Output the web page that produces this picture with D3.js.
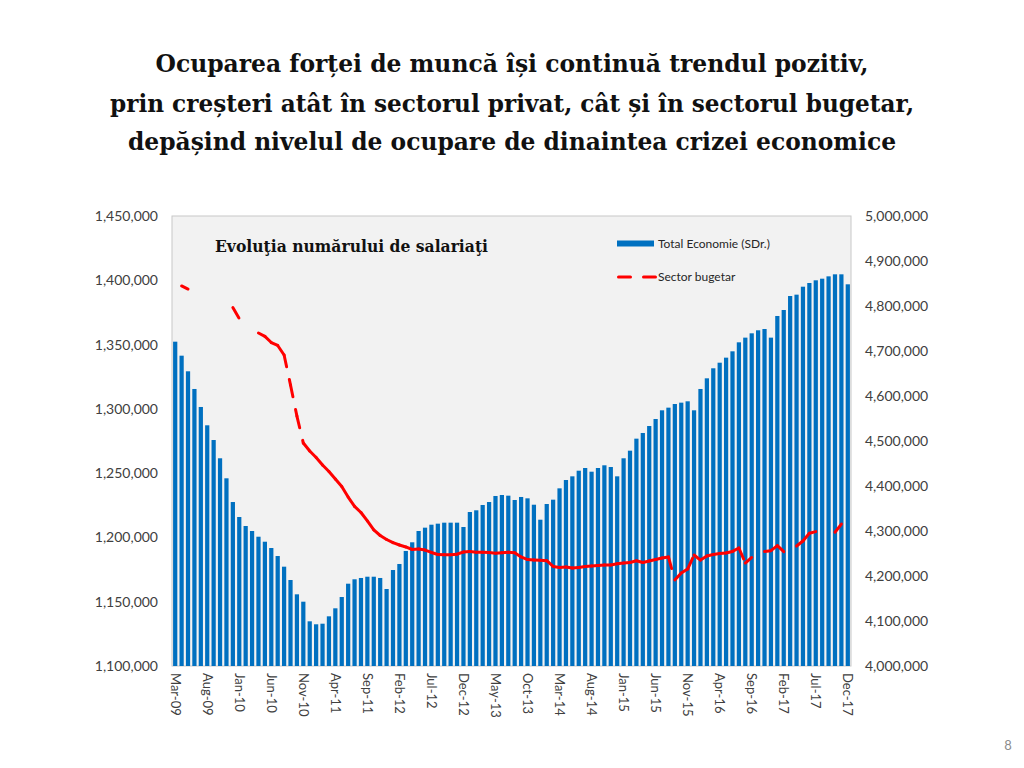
<!DOCTYPE html>
<html><head><meta charset="utf-8">
<script src="https://cdn.jsdelivr.net/npm/d3@7"></script>
<style>body{margin:0;background:#fff}</style>
</head><body><svg id="c" width="1024" height="768"></svg>
<script>
const months = [
"Mar-09","Apr-09","May-09","Jun-09","Jul-09","Aug-09","Sep-09","Oct-09","Nov-09","Dec-09",
"Jan-10","Feb-10","Mar-10","Apr-10","May-10","Jun-10","Jul-10","Aug-10","Sep-10","Oct-10","Nov-10","Dec-10",
"Jan-11","Feb-11","Mar-11","Apr-11","May-11","Jun-11","Jul-11","Aug-11","Sep-11","Oct-11","Nov-11","Dec-11",
"Jan-12","Feb-12","Mar-12","Apr-12","May-12","Jun-12","Jul-12","Aug-12","Sep-12","Oct-12","Nov-12","Dec-12",
"Jan-13","Feb-13","Mar-13","Apr-13","May-13","Jun-13","Jul-13","Aug-13","Sep-13","Oct-13","Nov-13","Dec-13",
"Jan-14","Feb-14","Mar-14","Apr-14","May-14","Jun-14","Jul-14","Aug-14","Sep-14","Oct-14","Nov-14","Dec-14",
"Jan-15","Feb-15","Mar-15","Apr-15","May-15","Jun-15","Jul-15","Aug-15","Sep-15","Oct-15","Nov-15","Dec-15",
"Jan-16","Feb-16","Mar-16","Apr-16","May-16","Jun-16","Jul-16","Aug-16","Sep-16","Oct-16","Nov-16","Dec-16",
"Jan-17","Feb-17","Mar-17","Apr-17","May-17","Jun-17","Jul-17","Aug-17","Sep-17","Oct-17","Nov-17","Dec-17"];

const totalEconomie = [
4720700,4689600,4654900,4615600,4575600,4534900,4502200,4461600,4417100,4364400,
4331100,4311100,4300000,4287300,4276200,4262200,4244400,4220700,4191100,4159300,4142900,4099300,
4092700,4094000,4110400,4128200,4153300,4182900,4192700,4195600,4198400,4198400,4195600,4171100,
4213300,4226700,4255600,4274900,4300000,4307400,4314000,4316300,4318500,4318500,4318500,4308900,
4342200,4346000,4357800,4364400,4377800,4380000,4378500,4368900,4375600,4372600,4358400,4325100,
4360000,4369600,4394800,4413300,4421500,4434000,4440000,4431800,4440000,4446000,4442200,4421500,
4461600,4478500,4505200,4517800,4533300,4548900,4568200,4574100,4582200,4585200,4588200,4568200,
4615600,4639300,4661600,4674000,4685200,4699300,4719300,4729700,4739300,4746000,4748900,4729700,
4777800,4791100,4822200,4825200,4842900,4851100,4857100,4860700,4865900,4870400,4870400,4848200];

const sectorBugetar = [
null,1395600,1393200,null,null,null,null,null,null,1378800,
1370300,null,null,1359000,1356400,1351600,1349300,1341900,1318600,1294400,1273400,1267200,
1262200,1256300,1251300,1245400,1239600,1231400,1224100,1219400,1212800,1205800,1201500,1198400,
1195900,1194100,1192600,1190600,1191000,1190200,1188300,1186700,1186600,1186600,1187000,1188700,
1189100,1188400,1188400,1188300,1187700,1188100,1188400,1188000,1184800,1182800,1182400,1182300,
1181900,1177400,1176600,1177000,1176200,1176600,1177400,1177800,1178200,1178600,1178600,1179600,
1180100,1180500,1181900,1180500,1181700,1182800,1184000,1184800,1166900,1172300,1175400,1186300,
1182400,1185600,1186700,1187500,1187900,1189100,1191800,1180100,1184400,null,1189100,1189700,
1193600,1188900,null,1193300,1197200,1203200,1204500,null,null,1204000,1210400,null];

const xTickLabels = ["Mar-09","Aug-09","Jan-10","Jun-10","Nov-10","Apr-11","Sep-11","Feb-12","Jul-12","Dec-12",
"May-13","Oct-13","Mar-14","Aug-14","Jan-15","Jun-15","Nov-15","Apr-16","Sep-16","Feb-17","Jul-17","Dec-17"];
const leftTicks = [1100000,1150000,1200000,1250000,1300000,1350000,1400000,1450000];
const rightTicks = [4000000,4100000,4200000,4300000,4400000,4500000,4600000,4700000,4800000,4900000,5000000];
const titleLines = ["Ocuparea forței de muncă își continuă trendul pozitiv,",
"prin creșteri atât în sectorul privat, cât și în sectorul bugetar,",
"depășind nivelul de ocupare de dinaintea crizei economice"];
const chartTitle = "Evoluţia numărului de salariaţi";
const legendLabels = ["Total Economie (SDr.)", "Sector bugetar"];
const pageNumber = "8";

const svg = d3.select("#c");
svg.append("rect").attr("width",1024).attr("height",768).attr("fill","#fff");

const P = {x0:172, x1:851, y0:216, y1:666};
const x = d3.scaleBand().domain(months).range([P.x0, P.x1]).paddingInner(0.34).paddingOuter(0.17);
const yL = d3.scaleLinear().domain([1100000,1450000]).range([P.y1, P.y0]);
const yR = d3.scaleLinear().domain([4000000,5000000]).range([P.y1, P.y0]);
const cx = m => x(m) + x.bandwidth()/2;

// Title
const tW = [713, 804, 768], tB = [72, 111.5, 150];
titleLines.forEach((t,k) => {
  svg.append("text").attr("x",512).attr("y",tB[k]).attr("text-anchor","middle")
    .attr("font-family","DejaVu Serif").attr("font-weight","bold").attr("font-size",24)
    .attr("textLength",tW[k]).attr("lengthAdjust","spacingAndGlyphs").attr("fill","#111")
    .text(t);
});

// plot area
svg.append("rect").attr("x",P.x0).attr("y",P.y0).attr("width",P.x1-P.x0).attr("height",P.y1-P.y0)
  .attr("fill","#f2f2f2").attr("stroke","#c8c8c8").attr("stroke-width",1);

// bars
svg.append("g").selectAll("rect").data(months).join("rect")
  .attr("x", m => x(m)).attr("width", x.bandwidth())
  .attr("y", (m,i) => yR(totalEconomie[i]))
  .attr("height", (m,i) => yR(4000000) - yR(totalEconomie[i]))
  .attr("fill","#0070c0");

// line segments (dash pattern restarts per segment)
const lineGen = d3.line().x(d => cx(d.m)).y(d => yL(d.v));
const segs = [];
for (let i = 0; i < months.length-1; i++) {
  if (sectorBugetar[i] != null && sectorBugetar[i+1] != null)
    segs.push([{m:months[i], v:sectorBugetar[i]}, {m:months[i+1], v:sectorBugetar[i+1]}]);
}
svg.append("g").selectAll("path").data(segs).join("path")
  .attr("d", lineGen).attr("fill","none").attr("stroke","#ff0000").attr("stroke-width",3)
  .attr("stroke-linecap","round").attr("stroke-linejoin","round").attr("stroke-dasharray","12 13");

// axes
const fmt = d3.format(",");
const gl = svg.append("g").attr("transform",`translate(${P.x0},0)`)
  .call(d3.axisLeft(yL).tickValues(leftTicks).tickFormat(fmt).tickSize(0).tickPadding(14));
const gr = svg.append("g").attr("transform",`translate(${P.x1},0)`)
  .call(d3.axisRight(yR).tickValues(rightTicks).tickFormat(fmt).tickSize(0).tickPadding(14));
const gb = svg.append("g").attr("transform",`translate(0,${P.y1})`)
  .call(d3.axisBottom(x).tickValues(xTickLabels).tickSize(0));
[gl,gr,gb].forEach(g => {
  g.select(".domain").remove();
  g.selectAll("text").attr("font-family","Lato").attr("font-size",14).attr("fill","#404040");
});
gb.selectAll("text").attr("font-size",13).attr("transform","rotate(90)")
  .attr("x",7).attr("y",0).attr("dy","0.35em").attr("text-anchor","start");

// chart title
svg.append("text").attr("x",215).attr("y",252).attr("font-family","DejaVu Serif").attr("font-weight","bold")
  .attr("font-size",16).attr("textLength",273).attr("lengthAdjust","spacingAndGlyphs").attr("fill","#111")
  .text(chartTitle);

// legend
const lg = svg.append("g");
lg.append("rect").attr("x",617).attr("y",240.5).attr("width",37).attr("height",6).attr("fill","#0070c0");
lg.append("text").attr("x",658).attr("y",243.5).attr("dy","0.35em").attr("font-family","Lato")
  .attr("font-size",12).attr("fill","#262626").text(legendLabels[0]);
lg.append("line").attr("x1",618.5).attr("x2",656).attr("y1",277).attr("y2",277)
  .attr("stroke","#ff0000").attr("stroke-width",3).attr("stroke-linecap","round").attr("stroke-dasharray","12 13");
lg.append("text").attr("x",658).attr("y",277).attr("dy","0.35em").attr("font-family","Lato")
  .attr("font-size",12).attr("fill","#262626").text(legendLabels[1]);

// page number
svg.append("text").attr("x",1008).attr("y",750).attr("text-anchor","middle").attr("font-family","Lato")
  .attr("font-size",13).attr("fill","#8c8c8c").text(pageNumber);
</script></body></html>
